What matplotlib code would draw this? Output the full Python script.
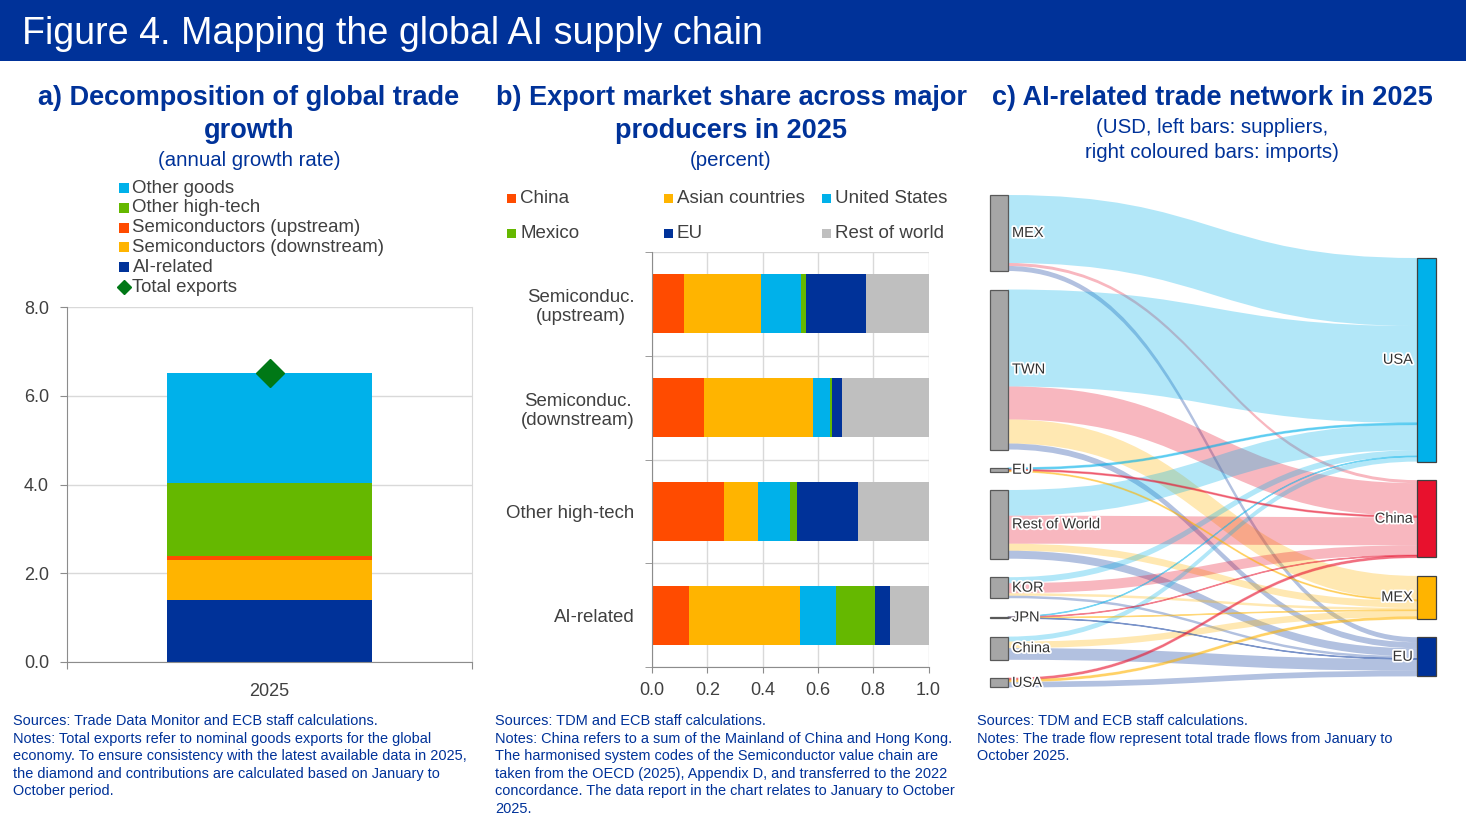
import matplotlib
matplotlib.use("Agg")
import matplotlib.pyplot as plt
import matplotlib.patheffects as pe
from matplotlib.patches import Rectangle, PathPatch
from matplotlib.path import Path
import numpy as np

plt.rcParams['font.family'] = 'Liberation Sans'

# ---- data: panel a (annual growth rate, 2025) ----
years_a = ['2025']
comp_names = ['AI-related', 'Semiconductors (downstream)', 'Semiconductors (upstream)',
              'Other high-tech', 'Other goods']
comp_values = [1.40, 0.89, 0.11, 1.64, 2.48]
total_exports = [6.52]

# ---- data: panel b (export market share) ----
cats_b = ['Semiconduc.\n(upstream)', 'Semiconduc.\n(downstream)', 'Other high-tech', 'AI-related']
share_china = [0.117, 0.189, 0.261, 0.133]
share_asian = [0.276, 0.392, 0.123, 0.403]
share_us = [0.147, 0.061, 0.115, 0.131]
share_mexico = [0.018, 0.009, 0.026, 0.140]
share_eu = [0.217, 0.037, 0.221, 0.054]
share_row = [0.225, 0.312, 0.254, 0.139]

# ---- data: panel c (trade flows, suppliers -> importers) ----
suppliers = ['MEX', 'TWN', 'EU', 'Rest of World', 'KOR', 'JPN', 'China', 'USA']
importers = ['USA', 'China', 'MEX', 'EU']
flow_to_usa = [68.0, 97.0, 1.5, 25.7, 6.0, 0.4, 5.0, 0.0]
flow_to_china = [3.0, 33.0, 1.2, 28.0, 10.0, 0.4, 0.0, 1.7]
flow_to_mex = [0.0, 24.0, 0.8, 7.0, 2.5, 0.3, 6.5, 1.7]
flow_to_eu = [5.0, 6.0, 0.0, 8.0, 2.5, 0.3, 11.7, 5.7]

# ECB colours
DBLUE = '#003299'
YELLOW = '#ffb400'
ORANGE = '#ff4b00'
GREEN = '#65b800'
LBLUE = '#00b1ea'
DGREEN = '#007816'
GREY = '#bfbfbf'
RED = '#e8112d'
TXT = '#404040'
GRID = '#d9d9d9'
SPINE = '#8c8c8c'

W, H = 1466, 823
fig = plt.figure(figsize=(W / 100, H / 100), dpi=100)

# overlay in pixel coordinates for header, titles, legends, notes and the sankey
ov = fig.add_axes([0, 0, 1, 1])
ov.set_xlim(0, W)
ov.set_ylim(H, 0)
ov.axis('off')

ov.add_patch(Rectangle((0, 0), W, 61, color=DBLUE, lw=0))
ov.text(22, 34, 'Figure 4. Mapping the global AI supply chain', color='white',
        fontsize=27.1, va='center', ha='left')

# panel titles
def title(x, lines, y0, step, bold=True, size=19.5):
    for k, s in enumerate(lines):
        ov.text(x, y0 + k * step, s, ha='center', va='center', color=DBLUE,
                fontsize=size, fontweight='bold' if bold else 'normal')

title(249, ['a) Decomposition of global trade', 'growth'], 97.5, 33)
title(249, ['(annual growth rate)'], 160, 0, bold=False, size=14.7)
title(731, ['b) Export market share across major', 'producers in 2025'], 97.5, 33)
title(731, ['(percent)'], 160, 0, bold=False, size=14.7)
title(1212, ['c) AI-related trade network in 2025'], 97.5, 0)
title(1212, ['(USD, left bars: suppliers,', 'right coloured bars: imports)'], 127, 25,
      bold=False, size=14.7)

# ---- panel a ----
ax_a = fig.add_axes([67 / W, 1 - 662 / H, (472 - 67) / W, (662 - 307) / H])
colors_a = [DBLUE, YELLOW, ORANGE, GREEN, LBLUE]
bottom = np.zeros(len(years_a))
for name, val, col in zip(comp_names, comp_values, colors_a):
    ax_a.bar([0], [val], bottom=bottom, width=0.505, color=col, label=name, zorder=2)
    bottom = bottom + val
ax_a.plot([0], total_exports, marker='D', ms=14, color=DGREEN, ls='none', zorder=3)
ax_a.set_xlim(-0.5, 0.5)
ax_a.set_ylim(0, 8)
ax_a.set_yticks([0, 2, 4, 6, 8])
ax_a.set_yticklabels(['0.0', '2.0', '4.0', '6.0', '8.0'])
ax_a.set_xticks([-0.5, 0.5])
ax_a.set_xticklabels(['', ''])
ax_a.set_xticks([0], minor=True)
ax_a.set_xticklabels(years_a, minor=True)
ax_a.tick_params(axis='x', which='minor', length=0, pad=15, labelsize=13, labelcolor=TXT)
ax_a.tick_params(axis='x', which='major', length=5, color=SPINE)
ax_a.tick_params(axis='y', length=5, color=SPINE, pad=8, labelsize=13, labelcolor=TXT)
ax_a.grid(axis='y', color=GRID, lw=1, zorder=0)
for s in ['left', 'bottom']:
    ax_a.spines[s].set_color(SPINE)
ax_a.spines['right'].set_color(GRID)
ax_a.spines['top'].set_visible(False)

# legend a
leg_a = list(zip(comp_names[::-1], colors_a[::-1]))
rows_a = [188, 207.8, 227.6, 247.4, 267.2]
for (name, col), yy in zip(leg_a, rows_a):
    ov.add_patch(Rectangle((118.5, yy - 5), 10, 10, color=col, lw=0))
    ov.text(132.5, yy, name, va='center', ha='left', fontsize=13.4, color=TXT)
ov.plot([123.5], [287], marker='D', ms=7, color=DGREEN, ls='none')
ov.text(132.5, 287, 'Total exports', va='center', ha='left', fontsize=13.4, color=TXT)

# ---- panel b ----
ax_b = fig.add_axes([652 / W, 1 - 667 / H, (928.5 - 652) / W, (667 - 252) / H])
series_b = [('China', share_china, ORANGE), ('Asian countries', share_asian, YELLOW),
            ('United States', share_us, LBLUE), ('Mexico', share_mexico, GREEN),
            ('EU', share_eu, DBLUE), ('Rest of world', share_row, GREY)]
ypos = np.arange(len(cats_b))
left = np.zeros(len(cats_b))
for name, vals, col in series_b:
    ax_b.barh(ypos, vals, left=left, height=0.57, color=col, zorder=2)
    left = left + np.array(vals)
ax_b.set_xlim(0, 1.0)
ax_b.set_ylim(3.5, -0.5)
ax_b.set_xticks([0, 0.2, 0.4, 0.6, 0.8, 1.0])
ax_b.set_xticklabels(['0.0', '0.2', '0.4', '0.6', '0.8', '1.0'])
ax_b.set_yticks(ypos)
ax_b.set_yticklabels(cats_b)
for lab in ax_b.get_yticklabels():
    lab.set_multialignment('center')
ax_b.set_yticks([-0.5, 0.5, 1.5, 2.5, 3.5], minor=True)
ax_b.tick_params(axis='y', which='major', length=0, pad=12.5, labelsize=13.4, labelcolor=TXT)
ax_b.tick_params(axis='y', which='minor', length=5, color=SPINE)
ax_b.tick_params(axis='x', length=4, color=SPINE, pad=7, labelsize=13, labelcolor=TXT)
ax_b.grid(axis='x', color=GRID, lw=1, zorder=0)
ax_b.grid(axis='y', which='minor', color=GRID, lw=1, zorder=0)
for s in ['left', 'bottom']:
    ax_b.spines[s].set_color(SPINE)
for s in ['right', 'top']:
    ax_b.spines[s].set_visible(False)

# legend b
leg_cols_x = [511, 668, 826]
leg_rows_y = [198, 233.5]
for k, (name, _, col) in enumerate(series_b):
    cx = leg_cols_x[k % 3]
    cy = leg_rows_y[k // 3]
    ov.add_patch(Rectangle((cx - 4.5, cy - 4.5), 9, 9, color=col, lw=0))
    ov.text(cx + 9, cy, name, va='center', ha='left', fontsize=13.5, color=TXT)

# ---- panel c: sankey ----
flows = np.array([flow_to_usa, flow_to_china, flow_to_mex, flow_to_eu]).T
link_cols = [LBLUE, RED, YELLOW, DBLUE]
node_cols = [LBLUE, RED, YELLOW, DBLUE]
gap = 18.5
xs, ws = 990, 18
xt, wt = 1417, 19
src_tot = flows.sum(axis=1)
tgt_tot = flows.sum(axis=0)
src_y = 195 + np.concatenate([[0], np.cumsum(src_tot + gap)[:-1]])
tgt_y = 258 + np.concatenate([[0], np.cumsum(tgt_tot + gap)[:-1]])


def ribbon(x0, a0, b0, x1, a1, b1):
    xm = (x0 + x1) / 2
    verts = [(x0, a0), (xm, a0), (xm, a1), (x1, a1), (x1, b1), (xm, b1), (xm, b0), (x0, b0), (x0, a0)]
    codes = [Path.MOVETO, Path.CURVE4, Path.CURVE4, Path.CURVE4, Path.LINETO,
             Path.CURVE4, Path.CURVE4, Path.CURVE4, Path.CLOSEPOLY]
    return Path(verts, codes)


out_off = src_y.copy()
in_off = tgt_y.copy()
for i in range(len(suppliers)):
    for j in range(len(importers)):
        f = flows[i, j]
        if f <= 0:
            continue
        p = ribbon(xs + ws, out_off[i], out_off[i] + f, xt, in_off[j], in_off[j] + f)
        if f < 2.5:
            patch = PathPatch(p, facecolor=link_cols[j], edgecolor=link_cols[j], alpha=0.45,
                              lw=0.9, zorder=2)
        else:
            patch = PathPatch(p, facecolor=link_cols[j], edgecolor='none', alpha=0.3, zorder=1)
        ov.add_patch(patch)
        out_off[i] += f
        in_off[j] += f

halo = [pe.withStroke(linewidth=2.5, foreground='white')]
for i, name in enumerate(suppliers):
    ov.add_patch(Rectangle((xs, src_y[i]), ws, max(src_tot[i], 1.0), facecolor='#a6a6a6',
                           edgecolor='#595959', lw=0.9, zorder=3))
    ov.text(xs + ws + 4, src_y[i] + src_tot[i] / 2, name, ha='left', va='center',
            fontsize=10.5, color='#333333', path_effects=halo, zorder=4)
for j, name in enumerate(importers):
    ov.add_patch(Rectangle((xt, tgt_y[j]), wt, tgt_tot[j], facecolor=node_cols[j],
                           edgecolor='#404040', lw=0.9, zorder=3))
    ov.text(xt - 4, tgt_y[j] + tgt_tot[j] / 2, name, ha='right', va='center',
            fontsize=10.5, color='#333333', path_effects=halo, zorder=4)

# ---- notes ----
note_kw = dict(ha='left', va='top', fontsize=10.45, color=DBLUE, linespacing=1.32)
ov.text(13, 714, 'Sources: Trade Data Monitor and ECB staff calculations.\n'
        'Notes: Total exports refer to nominal goods exports for the global\n'
        'economy. To ensure consistency with the latest available data in 2025,\n'
        'the diamond and contributions are calculated based on January to\n'
        'October period.', **note_kw)
ov.text(495, 714, 'Sources: TDM and ECB staff calculations.\n'
        'Notes: China refers to a sum of the Mainland of China and Hong Kong.\n'
        'The harmonised system codes of the Semiconductor value chain are\n'
        'taken from the OECD (2025), Appendix D, and transferred to the 2022\n'
        'concordance. The data report in the chart relates to January to October\n'
        '2025.', **note_kw)
ov.text(977, 714, 'Sources: TDM and ECB staff calculations.\n'
        'Notes: The trade flow represent total trade flows from January to\n'
        'October 2025.', **note_kw)

fig.savefig('out.png', dpi=100)
